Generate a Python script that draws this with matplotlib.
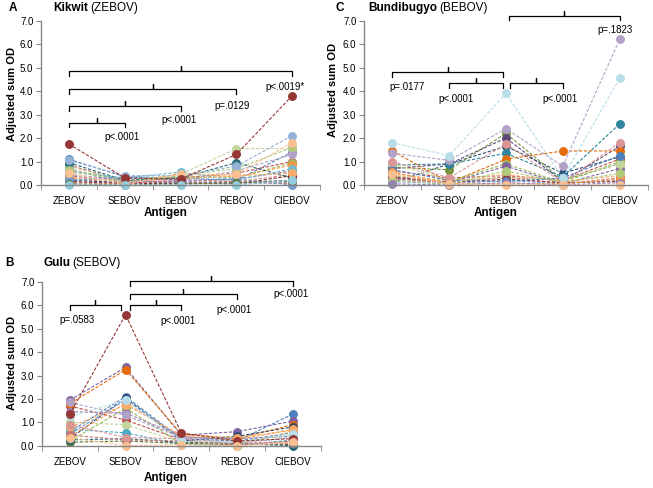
import numpy as np
import matplotlib.pyplot as plt

plt.rcParams['font.family'] = ['Liberation Sans', 'DejaVu Sans']

antigens = ["ZEBOV", "SEBOV", "BEBOV", "REBOV", "CIEBOV"]

# values per sample: ZEBOV, SEBOV, BEBOV, REBOV, CIEBOV
kikwit = [
    [1.10, 0.35, 0.30, 0.20, 1.40],
    [0.85, 0.15, 0.30, 0.50, 1.00],
    [0.80, 0.15, 0.45, 1.55, 1.55],
    [0.70, 0.10, 0.20, 0.60, 1.30],
    [0.60, 0.25, 0.35, 0.30, 0.95],
    [0.40, 0.10, 0.15, 0.25, 0.60],
    [0.30, 0.05, 0.50, 0.35, 0.85],
    [0.25, 0.20, 0.10, 0.15, 0.45],
    [0.95, 0.20, 0.30, 0.95, 0.30],
    [0.20, 0.10, 0.05, 0.10, 0.20],
    [0.15, 0.05, 0.10, 0.05, 0.40],
    [0.55, 0.30, 0.55, 0.20, 0.70],
    [0.35, 0.15, 0.25, 0.40, 0.50],
    [0.65, 0.10, 0.40, 0.70, 1.60],
    [0.45, 0.20, 0.10, 0.05, 0.10],
    [0.10, 0.05, 0.20, 0.15, 0.05],
    [0.20, 0.35, 0.20, 0.25, 0.00],
    [1.05, 0.40, 0.40, 0.80, 2.10],
    [0.05, 0.00, 0.05, 0.10, 0.15],
    [0.50, 0.05, 0.45, 0.45, 1.80],
    [1.75, 0.30, 0.25, 1.30, 3.80],
    [0.00, 0.00, 0.00, 0.00, 0.20],
]

bundibugyo = [
    [0.10, 0.90, 1.65, 0.50, 1.20],
    [0.60, 0.30, 0.40, 0.20, 1.10],
    [0.75, 0.65, 2.20, 0.20, 0.90],
    [0.70, 0.90, 2.00, 0.15, 1.65],
    [0.85, 0.90, 1.35, 0.35, 2.60],
    [1.45, 0.10, 1.10, 1.45, 1.45],
    [0.40, 0.15, 0.90, 0.10, 1.00],
    [0.30, 0.10, 0.80, 0.05, 0.70],
    [0.50, 0.15, 0.45, 0.15, 0.40],
    [0.25, 0.10, 0.35, 0.05, 0.30],
    [0.15, 0.05, 0.20, 0.05, 0.20],
    [0.90, 0.20, 0.30, 0.25, 0.90],
    [0.35, 0.10, 0.25, 0.10, 0.15],
    [0.65, 0.20, 0.15, 0.30, 1.25],
    [0.55, 0.05, 0.05, 0.05, 0.25],
    [0.20, 0.05, 0.60, 0.10, 0.50],
    [0.05, 0.00, 0.10, 0.00, 0.10],
    [1.00, 0.30, 1.75, 0.10, 1.80],
    [1.35, 1.05, 2.40, 0.80, 6.20],
    [1.80, 1.25, 3.90, 0.30, 4.55],
    [0.45, 0.05, 0.00, 0.00, 0.00],
]

gulu = [
    [0.60, 2.10, 0.30, 0.20, 1.35],
    [1.70, 1.10, 0.25, 0.05, 0.20],
    [1.00, 0.90, 0.15, 0.15, 0.45],
    [1.95, 3.35, 0.45, 0.60, 1.05],
    [0.70, 0.55, 0.05, 0.00, 0.25],
    [1.80, 3.25, 0.50, 0.30, 0.90],
    [0.30, 2.05, 0.20, 0.40, 0.80],
    [0.20, 1.60, 0.10, 0.05, 0.60],
    [0.40, 1.80, 0.40, 0.25, 0.70],
    [0.15, 0.20, 0.10, 0.05, 0.05],
    [0.50, 1.95, 0.35, 0.30, 0.40],
    [1.45, 1.40, 0.40, 0.20, 0.55],
    [0.25, 0.30, 0.15, 0.10, 0.00],
    [0.80, 1.75, 0.45, 0.35, 0.65],
    [0.45, 0.25, 0.20, 0.05, 0.10],
    [0.90, 0.35, 0.30, 0.10, 0.15],
    [1.85, 1.30, 0.35, 0.10, 0.35],
    [1.25, 1.95, 0.20, 0.15, 0.50],
    [1.35, 5.60, 0.55, 0.20, 0.30],
    [0.35, 0.00, 0.05, 0.00, 0.15],
]

# Excel 2007 style colours, one per sample
kikwit_colors = ["#4F81BD", "#C0504D", "#C3D69B", "#B3A2C7", "#9BBB59", "#8064A2",
                 "#F79646", "#D99694", "#276A7C", "#2C4D75", "#772C2A", "#6FBDD1",
                 "#F9AB6B", "#AFC97A", "#9983B5", "#CD7371", "#729ACA", "#95B3D7",
                 "#5F7530", "#FAC090", "#953735", "#93CDDD"]
bundibugyo_colors = ["#2C4D75", "#C0504D", "#77933C", "#5F497A", "#31859C", "#E46C0A",
                     "#9BBB59", "#8064A2", "#F9AB6B", "#CD7371", "#729ACA", "#C3D69B",
                     "#953735", "#4F81BD", "#F79646", "#AFC97A", "#9983B5", "#D99694",
                     "#B3A2C7", "#B7DEE8", "#FAC090"]
gulu_colors = ["#4F81BD", "#C0504D", "#C3D69B", "#8064A2", "#4BACC6", "#E46C0A",
               "#2C4D75", "#9BBB59", "#F79646", "#5F7530", "#729ACA", "#9983B5",
               "#276A7C", "#F9AB6B", "#CD7371", "#D99694", "#B3A2C7", "#B7DEE8",
               "#953735", "#FAC090"]

kikwit_p = ["p<.0001", "p<.0001", "p=.0129", "p<.0019*"]
bundibugyo_p = ["p=.0177", "p<.0001", "p<.0001", "p=.1823"]
gulu_p = ["p=.0583", "p<.0001", "p<.0001", "p<.0001"]

W, H = 653, 488
fig = plt.figure(figsize=(W / 100, H / 100), dpi=100)


def px(x, y):
    return x / W, 1 - y / H


def style_axes(ax):
    x = np.arange(len(antigens))
    ax.set_xlim(-0.5, len(antigens) - 0.5)
    ax.set_ylim(0, 7)
    ax.set_xticks(x)
    ax.set_xticklabels(antigens, fontsize=7)
    ax.set_xticks(np.arange(len(antigens) + 1) - 0.5, minor=True)
    ax.tick_params(axis="x", which="major", length=0, pad=8)
    ax.tick_params(axis="x", which="minor", length=3.5, color="#868686", direction="out")
    ax.set_yticks(np.arange(0, 8))
    ax.set_yticklabels(["%.1f" % v for v in range(8)], fontsize=7)
    ax.tick_params(axis="y", length=3.5, color="#868686", direction="out", pad=2)
    for s in ["top", "right"]:
        ax.spines[s].set_visible(False)
    for s in ["left", "bottom"]:
        ax.spines[s].set_color("#868686")
        ax.spines[s].set_linewidth(1.0)


def draw_series(ax, data, colors):
    x = np.arange(len(antigens))
    for vals, c in zip(data, colors):
        ax.plot(x, vals, color=c, lw=0.8, dashes=(3, 1.5), marker="o", ms=5.4,
                mec=c, mfc=c, clip_on=False)


def bracket(ax, x0, x1, y, label, lx, ly):
    xm = (x0 + x1) / 2
    ax.plot([x0, x0, xm, xm, xm, x1, x1], [y - 0.2, y, y, y + 0.22, y, y, y - 0.2],
            color="black", lw=0.9, clip_on=False)
    ax.text(lx, ly, label, ha="center", va="center", fontsize=7)


def panel_title(letter, name, virus, lx, nx, y):
    fx, fy = px(lx, y)
    fig.text(fx, fy, letter, fontsize=8.5, fontweight="bold", va="center")
    fx, fy = px(nx, y)
    t = fig.text(fx, fy, name, fontsize=8.5, fontweight="bold", va="center")
    fig.canvas.draw()
    bb = t.get_window_extent()
    fig.text(bb.x1 / W + 0.004, fy, "(%s)" % virus, fontsize=8.5, va="center")


# Panel A
axA = fig.add_axes([41 / W, 1 - 185 / H, 279 / W, 164.3 / H])
style_axes(axA)
draw_series(axA, kikwit, kikwit_colors)
bracket(axA, 0, 1, 2.65, kikwit_p[0], 0.95, 2.06)
bracket(axA, 0, 2, 3.37, kikwit_p[1], 1.97, 2.77)
bracket(axA, 0, 3, 4.08, kikwit_p[2], 2.93, 3.37)
bracket(axA, 0, 4, 4.86, kikwit_p[3], 3.87, 4.16)
panel_title("A", "Kikwit", "ZEBOV", 9, 53, 8)

# Panel C
axC = fig.add_axes([364 / W, 1 - 185 / H, 284 / W, 164.3 / H])
style_axes(axC)
draw_series(axC, bundibugyo, bundibugyo_colors)
bracket(axC, 0, 1.95, 4.80, bundibugyo_p[0], 0.25, 4.16)
bracket(axC, 1, 1.95, 4.33, bundibugyo_p[1], 1.12, 3.65)
bracket(axC, 2.07, 3, 4.33, bundibugyo_p[2], 2.95, 3.65)
bracket(axC, 2.05, 4, 7.21, bundibugyo_p[3], 3.92, 6.60)
panel_title("C", "Bundibugyo", "BEBOV", 335, 368, 8)

# Panel B
axB = fig.add_axes([42 / W, 1 - 445.7 / H, 278.5 / W, 163.7 / H])
style_axes(axB)
draw_series(axB, gulu, gulu_colors)
bracket(axB, 0, 0.92, 6.02, gulu_p[0], 0.12, 5.37)
bracket(axB, 1.08, 2, 6.02, gulu_p[1], 1.95, 5.33)
bracket(axB, 1.08, 3, 6.49, gulu_p[2], 2.95, 5.80)
bracket(axB, 1.08, 4, 7.05, gulu_p[3], 3.97, 6.47)
panel_title("B", "Gulu", "SEBOV", 5, 43, 263)

# axis labels
for ax, ycen, xcen, ylab_y, xlab_x in [(axA, 93.5, 12, 213, 165.5),
                                        (axC, 90, 333, 213, 495.5),
                                        (axB, 363, 12, 478, 166)]:
    fx, fy = px(xcen, ycen)
    fig.text(fx, fy, "Adjusted sum OD", rotation=90, fontsize=8, fontweight="bold",
             ha="center", va="center")
    fx, fy = px(xlab_x, ylab_y)
    fig.text(fx, fy, "Antigen", fontsize=8.5, fontweight="bold", ha="center", va="center")

fig.savefig("out.png", dpi=100)
